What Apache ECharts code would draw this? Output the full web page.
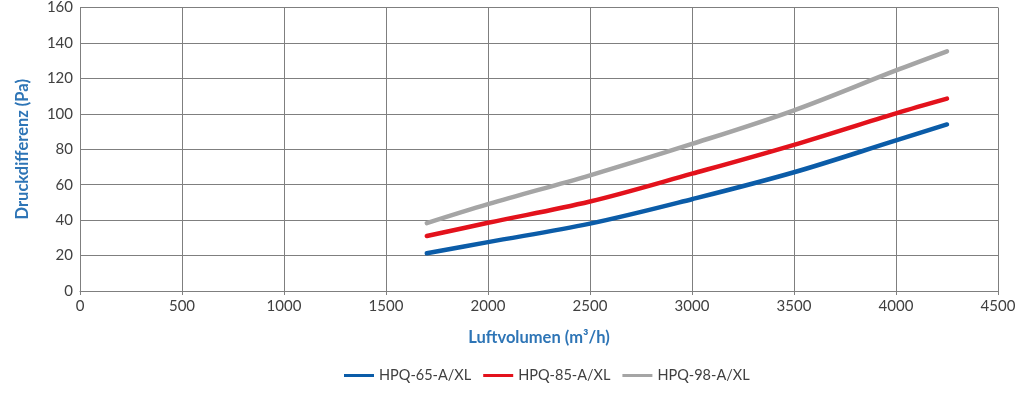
<!DOCTYPE html>
<html>
<head>
<meta charset="utf-8">
<script src="https://cdn.jsdelivr.net/npm/echarts@6/dist/echarts.min.js"></script>
<style>
html,body{margin:0;padding:0;background:#fff;}
#chart{width:1024px;height:393px;}
</style>
</head>
<body>
<div id="chart"></div>
<script>
const airflow = [1700, 2000, 2500, 3000, 3500, 4000, 4250];
const hpq65 = [21.3, 27.6, 38.0, 51.8, 67.0, 85.0, 94.0];
const hpq85 = [31.0, 38.5, 50.5, 66.2, 82.5, 100.3, 108.6];
const hpq98 = [38.3, 49.0, 65.3, 83.0, 102.0, 124.5, 135.3];
const seriesNames = ['HPQ-65-A/XL', 'HPQ-85-A/XL', 'HPQ-98-A/XL'];
const seriesColors = ['#0b5ca8', '#e3121c', '#a5a5a5'];

function pairs(ys){ return airflow.map((x,i)=>[x, ys[i]]); }
const allData = [hpq65, hpq85, hpq98];

const chart = echarts.init(document.getElementById('chart'));
const font = 'Lato, "Open Sans", sans-serif';
chart.setOption({
  animation: false,
  backgroundColor: '#ffffff',
  grid: { left: 80, right: 26, top: 6, bottom: 102 },
  legend: {
    data: seriesNames,
    left: 339,
    top: 363,
    icon: 'rect',
    itemWidth: 30,
    itemHeight: 3,
    itemGap: 12,
    textStyle: { fontFamily: font, fontSize: 14.5, color: '#404040' }
  },
  xAxis: {
    type: 'value',
    min: 0, max: 4500, interval: 500,
    name: 'Luftvolumen (m³/h)',
    nameLocation: 'middle',
    nameGap: 38,
    nameTextStyle: { fontFamily: font, fontSize: 16.5, fontWeight: 'bold', color: '#2e75b6' },
    axisLine: { show: true, lineStyle: { color: '#7f7f7f', width: 1 } },
    axisTick: { show: true, length: 4, lineStyle: { color: '#7f7f7f' } },
    axisLabel: { fontFamily: font, fontSize: 15, color: '#404040', margin: 8, formatter: v => String(v) },
    splitLine: { show: true, lineStyle: { color: '#7f7f7f', width: 1 } }
  },
  yAxis: {
    type: 'value',
    min: 0, max: 160, interval: 20,
    name: 'Druckdifferenz (Pa)',
    nameLocation: 'middle',
    nameGap: 49,
    nameTextStyle: { fontFamily: font, fontSize: 16.5, fontWeight: 'bold', color: '#2e75b6' },
    axisLine: { show: true, lineStyle: { color: '#7f7f7f', width: 1 } },
    axisTick: { show: false },
    axisLabel: { fontFamily: font, fontSize: 15, color: '#404040', margin: 7, formatter: v => String(v) },
    splitLine: { show: true, lineStyle: { color: '#7f7f7f', width: 1 } }
  },
  series: seriesNames.map((n, i) => ({
    name: n,
    type: 'line',
    data: pairs(allData[i]),
    smooth: 0.35,
    showSymbol: false,
    color: seriesColors[i],
    lineStyle: { width: 4.5, color: seriesColors[i], cap: 'round' }
  }))
});
</script>
</body>
</html>
